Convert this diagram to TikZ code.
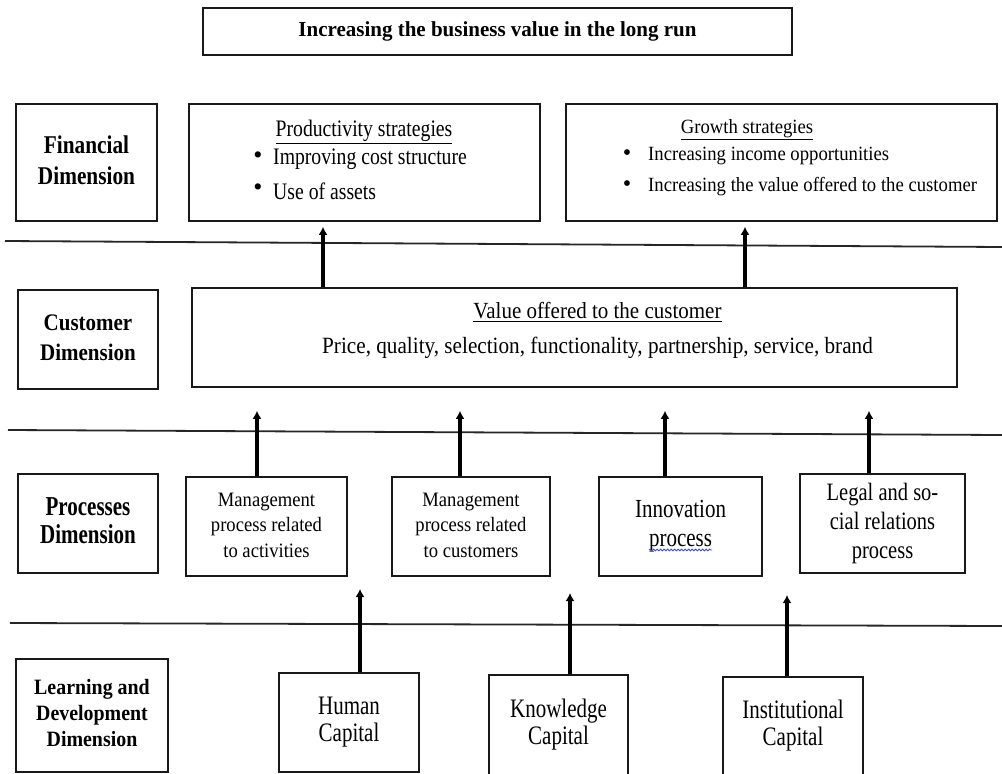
\documentclass[tikz,border=0pt]{standalone}
\usepackage{fontspec}
\setmainfont{Liberation Serif}
\usetikzlibrary{arrows.meta,decorations.pathmorphing}
\newcommand\fsz[2]{\fontsize{#1}{#2}\selectfont}
\newcommand\stk[2]{\scalebox{1}[#1]{\begin{tabular}{@{}c@{}}#2\end{tabular}}}
\newcommand\vsc[2]{\scalebox{1}[#1]{#2}}
\begin{document}
\begin{tikzpicture}[x=1pt,y=-1pt,
  box/.style={draw=black!90, line width=1.6pt, inner sep=0pt, align=center},
  txt/.style={inner sep=0pt, align=center},
  upar/.style={line width=4pt, -{Latex[length=8pt,width=9pt]}},
  sepline/.style={draw=black!85, line width=1.8pt}]
\useasboundingbox (0,0) rectangle (1002,774);
\fill[white] (0,0) rectangle (1002,774);

% separator lines
\coordinate (l1a) at (5,241);  \coordinate (l1b) at (1002,247);
\coordinate (l2a) at (8,430);  \coordinate (l2b) at (1002,435);
\coordinate (l3a) at (10,623); \coordinate (l3b) at (1002,626);
\draw[sepline] (l1a) -- (l1b);
\draw[sepline] (l2a) -- (l2b);
\draw[sepline] (l3a) -- (l3b);

% title
\node[box, minimum width=589pt, minimum height=47pt, font=\fsz{21}{24}\bfseries] (title) at (497.5,31.5) {\vsc{1.02}{Increasing the business value in the long run}};

% financial row
\node[box, minimum width=141pt, minimum height=117pt, font=\fsz{21.3}{26}\bfseries] (fin) at (86.5,162.5) {\stk{1.2}{Financial\\Dimension}};
\node[box, minimum width=351pt, minimum height=117pt] (prod) at (364.5,162.5) {};
\node[box, minimum width=431pt, minimum height=117pt] (grow) at (781.5,162.5) {};
\node[txt, font=\fsz{19.7}{24}] (prodh) at (364,132) {\vsc{1.2}{\underline{Productivity strategies}}};
\node[txt, font=\fsz{26}{24}] (pk1) at (258,158) {\textbullet};
\node[txt, font=\fsz{19.7}{24}, anchor=west] (pb1) at (273,159) {\vsc{1.2}{Improving cost structure}};
\node[txt, font=\fsz{26}{24}] (pk2) at (258,190) {\textbullet};
\node[txt, font=\fsz{19.7}{24}, anchor=west] (pb2) at (273,191) {\vsc{1.2}{Use of assets}};
\node[txt, font=\fsz{18.7}{23}] (growh) at (747,130) {\vsc{1.08}{\underline{Growth strategies}}};
\node[txt, font=\fsz{24}{23}] (gk1) at (627,155) {\textbullet};
\node[txt, font=\fsz{18.7}{23}, anchor=west] (gb1) at (648,156) {\vsc{1.08}{Increasing income opportunities}};
\node[txt, font=\fsz{24}{23}] (gk2) at (627,186) {\textbullet};
\node[txt, font=\fsz{18.7}{23}, anchor=west] (gb2) at (648,187) {\vsc{1.08}{Increasing the value offered to the customer}};

% customer row
\node[box, minimum width=140pt, minimum height=99pt, font=\fsz{21}{26.5}\bfseries] (cust) at (88,339.5) {\stk{1.13}{Customer\\Dimension}};
\node[box, minimum width=765pt, minimum height=99pt] (value) at (574.5,337.5) {};
\node[txt, font=\fsz{21}{25}] (valh) at (597.5,312) {\vsc{1.1}{\underline{Value offered to the customer}}};
\node[txt, font=\fsz{21.2}{25}] (valt) at (597.5,348) {\vsc{1.1}{Price, quality, selection, functionality, partnership, service, brand}};

% processes row
\node[box, minimum width=140pt, minimum height=99pt, font=\fsz{21}{21.5}\bfseries] (proc) at (88,523.5) {\stk{1.3}{Processes\\Dimension}};
\node[box, minimum width=161pt, minimum height=99pt, font=\fsz{18.6}{23.2}] (m1) at (266.5,526.5) {\stk{1.1}{Management\\process related\\to activities}};
\node[box, minimum width=158pt, minimum height=99pt, font=\fsz{18.6}{23.2}] (m2) at (471,526.5) {\stk{1.1}{Management\\process related\\to customers}};
\node[box, minimum width=163pt, minimum height=99pt, font=\fsz{21}{23.4}] (inno) at (680.5,526.5) {\stk{1.24}{Innovation\\process}};
\node[box, minimum width=165pt, minimum height=99pt, font=\fsz{20.5}{23.8}] (legal) at (882.5,523.5) {\stk{1.22}{Legal and so-\\cial relations\\process}};
\draw[blue!75!white, line width=0.8pt, decorate, decoration={snake, amplitude=0.9pt, segment length=3.5pt}] (649,550) -- (712,550);

% learning row
\node[box, minimum width=152pt, minimum height=113pt, font=\fsz{19.9}{23.6}\bfseries] (learn) at (92,715.5) {\stk{1.1}{Learning and\\Development\\Dimension}};
\node[box, minimum width=140pt, minimum height=99pt, font=\fsz{21}{21.3}] (human) at (349,722.5) {\stk{1.27}{Human\\Capital}};
\node[box, minimum width=139pt, minimum height=101pt, font=\fsz{21}{21.3}] (know) at (558.5,725.5) {\stk{1.27}{Knowledge\\Capital}};
\node[box, minimum width=140pt, minimum height=99pt, font=\fsz{21}{21.3}] (inst) at (793,726.5) {\stk{1.27}{Institutional\\Capital}};

% arrows customer -> financial
\coordinate (a1) at (323,0);
\coordinate (a2) at (745,0);
\draw[upar, shorten >=5pt] (a1 |- value.north) -- (a1 |- prod.south);
\draw[upar, shorten >=5pt] (a2 |- value.north) -- (a2 |- grow.south);

% arrows processes -> customer
\coordinate (b1) at (257,0);
\coordinate (b2) at (460,0);
\coordinate (b3) at (665,0);
\coordinate (b4) at (869,0);
\draw[upar, shorten >=23pt] (b1 |- m1.north) -- (b1 |- value.south);
\draw[upar, shorten >=23pt] (b2 |- m2.north) -- (b2 |- value.south);
\draw[upar, shorten >=23pt] (b3 |- inno.north) -- (b3 |- value.south);
\draw[upar, shorten >=23pt] (b4 |- legal.north) -- (b4 |- value.south);

% arrows learning -> processes
\coordinate (t1) at (360,589);
\coordinate (t2) at (570,593);
\coordinate (t3) at (787,595);
\draw[upar] (t1 |- human.north) -- (t1);
\draw[upar] (t2 |- know.north) -- (t2);
\draw[upar] (t3 |- inst.north) -- (t3);
\end{tikzpicture}
\end{document}
